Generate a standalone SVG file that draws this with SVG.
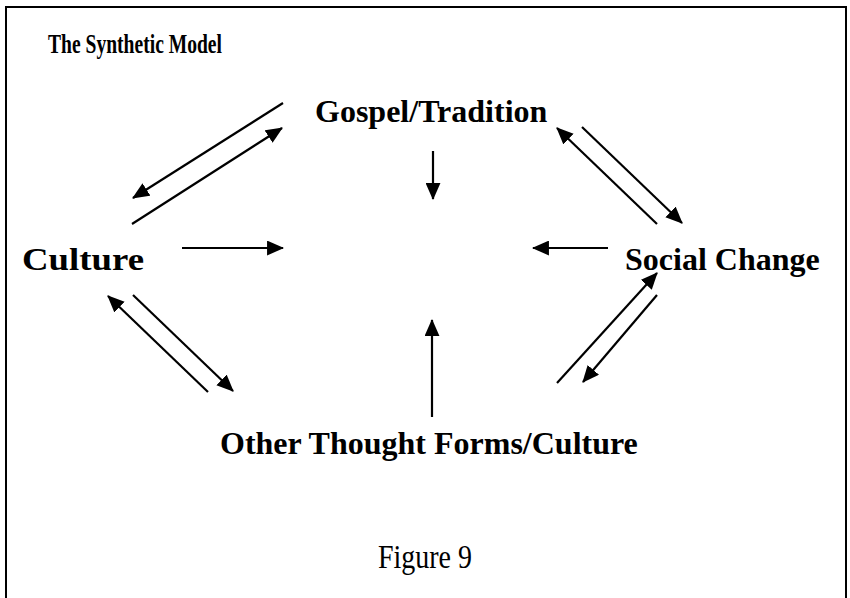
<svg xmlns="http://www.w3.org/2000/svg" width="850" height="598" viewBox="0 0 850 598">
<defs>
<marker id="ah" viewBox="0 0 16 14" refX="15" refY="7" markerWidth="17" markerHeight="15" markerUnits="userSpaceOnUse" orient="auto">
<path d="M0,0 L16,7 L0,14 Z" fill="#000"/>
</marker>
<style>
.node{font-family:"Liberation Serif","Times New Roman",serif;font-weight:bold;font-size:32px;fill:#000}
.cond{font-family:"Liberation Serif","Times New Roman",serif;fill:#000}
.c line{stroke:#000;stroke-width:2.2;marker-end:url(#ah)}
</style>
</defs>
<rect width="850" height="598" fill="#fff"/>
<path d="M6,600 V7 H846 V600" fill="none" stroke="#000" stroke-width="2"/>
<text class="cond" x="48" y="53" font-size="27" font-weight="bold" textLength="174" lengthAdjust="spacingAndGlyphs">The Synthetic Model</text>
<g id="gospel"><text class="node" x="315" y="122">Gospel/Tradition</text></g>
<g id="culture"><text class="node" x="22" y="270" textLength="122" lengthAdjust="spacingAndGlyphs">Culture</text></g>
<g id="social"><text class="node" x="625" y="270">Social Change</text></g>
<g id="other"><text class="node" x="220" y="454">Other Thought Forms/Culture</text></g>
<text class="cond" x="378" y="568" font-size="33" textLength="94" lengthAdjust="spacingAndGlyphs">Figure 9</text>
<g id="connectors" class="c">
<line x1="283" y1="103" x2="133" y2="198"/>
<line x1="132" y1="224" x2="282" y2="128"/>
<line x1="657" y1="224" x2="557" y2="128"/>
<line x1="582" y1="127" x2="682" y2="223"/>
<line x1="208" y1="392" x2="108" y2="296"/>
<line x1="133" y1="295" x2="233" y2="391"/>
<line x1="608" y1="248" x2="533" y2="248"/>
<line x1="557" y1="383" x2="657" y2="273"/>
<line x1="657" y1="295" x2="583" y2="382"/>
<line x1="433" y1="151" x2="433" y2="199"/>
<line x1="182" y1="248" x2="283" y2="248"/>
<line x1="432" y1="417" x2="432" y2="320"/>
</g>
</svg>
